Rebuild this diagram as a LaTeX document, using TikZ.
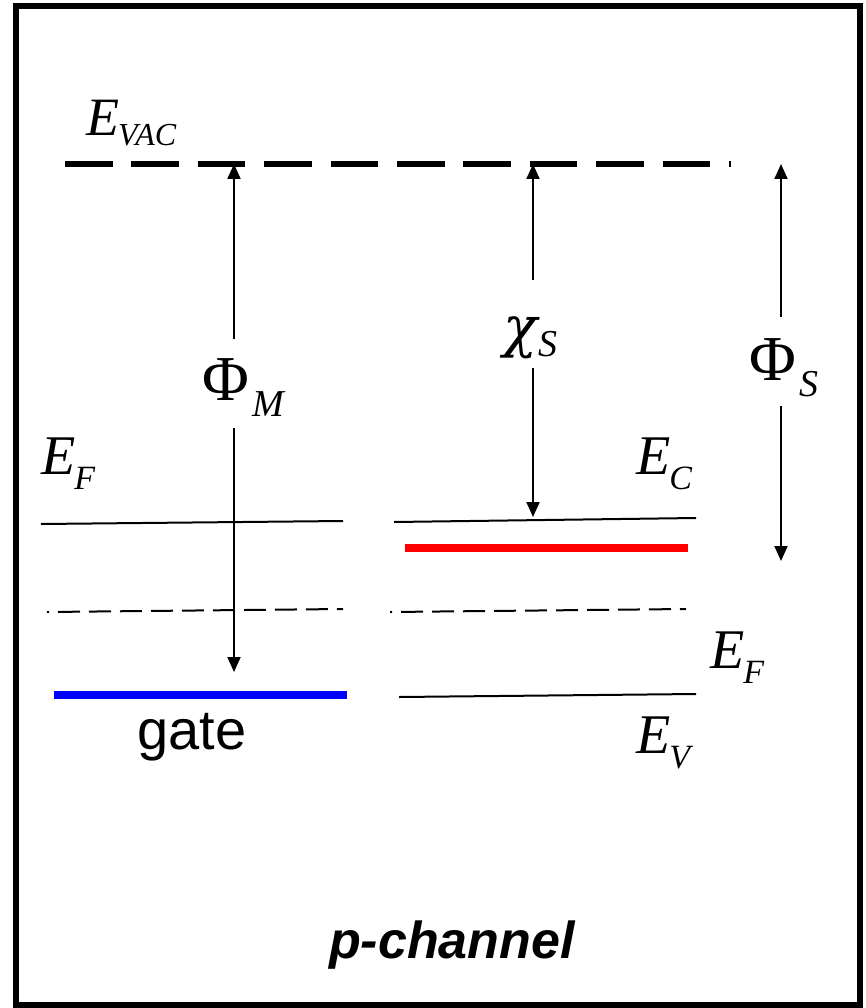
\documentclass[tikz,border=0pt]{standalone}
\usepackage{fontspec}
\setmainfont{Liberation Serif}
\setsansfont{Liberation Sans}
\newfontfamily\gkfont{DejaVu Serif}
\usetikzlibrary{arrows.meta}
\newcommand\ELab[1]{{\fontsize{56}{56}\selectfont\itshape E}\kern-1pt\raisebox{-15pt}{\fontsize{34}{34}\selectfont\itshape #1}}
\newcommand\GLab[1]{{\fontsize{64}{64}\selectfont Φ}\kern4pt\raisebox{-16pt}{\fontsize{38}{38}\selectfont\itshape #1}}
\tikzset{
  lbl/.style={inner sep=0pt, anchor=base west},
  level/.style={line width=2pt},
  dlevel/.style={line width=2pt, dash pattern=on 22pt off 9pt, dash phase=20pt},
  gap/.style={line width=2pt, -{Triangle[length=15pt,width=13pt]}},
  vac/.style={line width=6pt, dash pattern=on 47.6pt off 18.8pt},
}
\begin{document}
\begin{tikzpicture}[x=1pt,y=-1pt]
\useasboundingbox (0,0) rectangle (865,1008);
\fill[white] (0,0) rectangle (865,1008);
\draw[line width=6pt] (16,6.5) rectangle (859.5,1004.5);

% vacuum level
\coordinate (vacL) at (65,164);
\coordinate (vacR) at (731,164);
\draw[vac] (vacL) -- (vacR);
\node[lbl] (evac) at (86,136) {{\fontsize{54}{54}\selectfont\itshape E}\kern-1pt\raisebox{-10pt}{\fontsize{32}{32}\selectfont\itshape VAC}};

% metal side
\coordinate (mFL) at (41,524); \coordinate (mFR) at (343,521);
\draw[level] (mFL) -- (mFR);
\coordinate (mDL) at (47,612); \coordinate (mDR) at (343,609);
\draw[dlevel] (mDL) -- (mDR);
\coordinate (gL) at (54,695); \coordinate (gR) at (347,695);
\draw[line width=8pt, blue] (gL) -- (gR);
\node[lbl] (efl) at (41,474) {\ELab{F}};
\node[inner sep=0pt, anchor=base] (gate) at (192,749) {\sffamily\fontsize{56}{56}\selectfont gate};

% semiconductor side
\coordinate (cL) at (394,522); \coordinate (cR) at (696,518);
\draw[level] (cL) -- (cR);
\coordinate (rL) at (405,548); \coordinate (rR) at (688,548);
\draw[line width=8pt, red] (rL) -- (rR);
\coordinate (sDL) at (390,612); \coordinate (sDR) at (686,609);
\draw[dlevel] (sDL) -- (sDR);
\coordinate (vL) at (399,697); \coordinate (vR) at (696,694);
\draw[level] (vL) -- (vR);
\node[lbl] (ec) at (636,474) {\ELab{C}};
\node[lbl] (efr) at (710,668) {\ELab{F}};
\node[lbl] (ev) at (636,753) {\ELab{V}};

% Phi_M
\coordinate (pmT) at (234,164); \coordinate (pmA) at (234,339);
\coordinate (pmB) at (234,428); \coordinate (pmE) at (234,672);
\draw[gap] (pmA) -- (pmT);
\draw[gap] (pmB) -- (pmE);
\node[lbl] (phiM) at (202,400) {\GLab{M}};

% chi_S
\coordinate (csT) at (533,164); \coordinate (csA) at (533,280);
\coordinate (csB) at (533,368); \coordinate (csE) at (533,517);
\draw[gap] (csA) -- (csT);
\draw[gap] (csB) -- (csE);
\node[lbl] (chiS) at (503,346) {{\gkfont\fontsize{56}{56}\selectfont\itshape χ}\kern1pt\raisebox{-10pt}{\fontsize{38}{38}\selectfont\itshape S}};

% Phi_S
\coordinate (psT) at (781,164); \coordinate (psA) at (781,317);
\coordinate (psB) at (781,406); \coordinate (psE) at (781,561);
\draw[gap] (psA) -- (psT);
\draw[gap] (psB) -- (psE);
\node[lbl] (phiS) at (749,380) {\GLab{S}};

\node[inner sep=0pt, anchor=base] (pch) at (452,958) {\sffamily\bfseries\itshape\fontsize{52}{52}\selectfont p-channel};
\end{tikzpicture}
\end{document}
